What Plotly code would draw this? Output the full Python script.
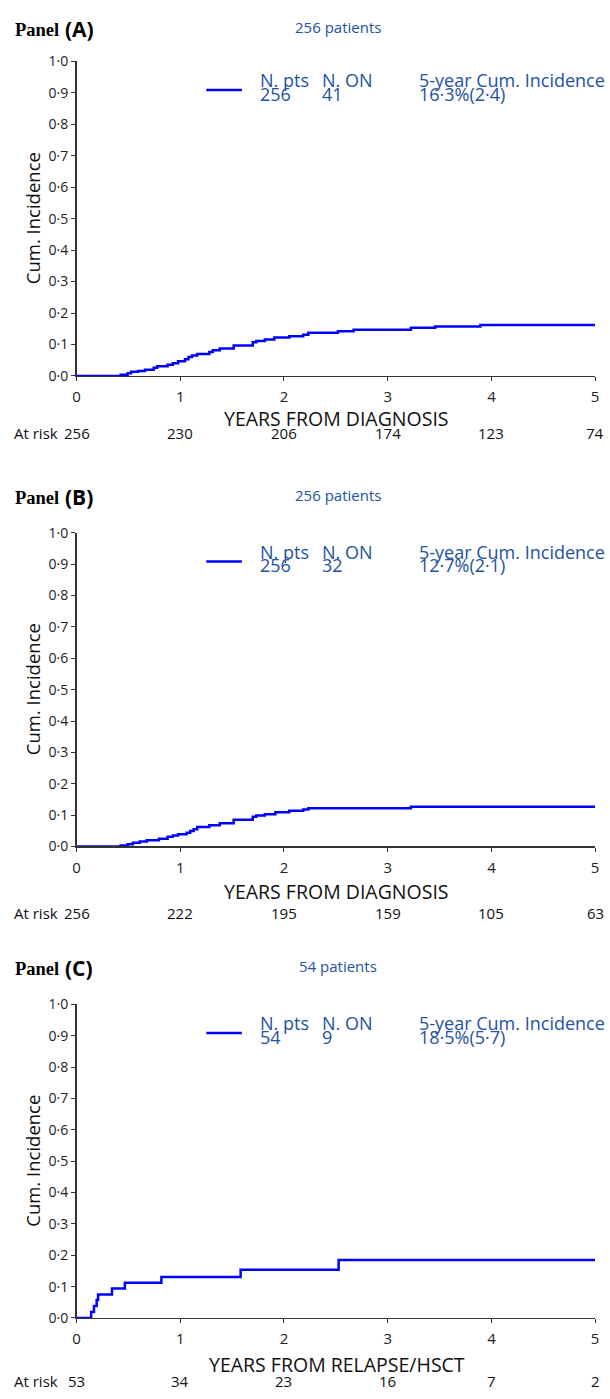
import plotly.graph_objects as go

# ---------------- data ----------------
panel_labels = ["(A)", "(B)", "(C)"]
panel_subtitles = ["256 patients", "256 patients", "54 patients"]
x_titles = ["YEARS FROM DIAGNOSIS", "YEARS FROM DIAGNOSIS", "YEARS FROM RELAPSE/HSCT"]

times_A = [0.426, 0.493, 0.526, 0.593, 0.66, 0.744, 0.777, 0.878, 0.928, 0.979, 1.046, 1.079,
           1.113, 1.163, 1.28, 1.314, 1.381, 1.515, 1.699, 1.733, 1.816, 1.907, 2.051, 2.185,
           2.235, 2.52, 2.671, 3.224, 3.458, 3.894]
cuminc_A = [0.004, 0.009, 0.013, 0.016, 0.02, 0.026, 0.031, 0.036, 0.04, 0.047, 0.053, 0.06,
            0.065, 0.07, 0.076, 0.082, 0.087, 0.097, 0.107, 0.111, 0.116, 0.122, 0.126, 0.131,
            0.137, 0.142, 0.147, 0.153, 0.157, 0.162]

times_B = [0.426, 0.493, 0.543, 0.61, 0.677, 0.794, 0.878, 0.928, 0.979, 1.062, 1.096, 1.129,
           1.163, 1.28, 1.381, 1.515, 1.699, 1.733, 1.816, 1.917, 2.051, 2.185, 2.235, 3.224]
cuminc_B = [0.003, 0.007, 0.012, 0.016, 0.02, 0.025, 0.031, 0.035, 0.039, 0.044, 0.049, 0.055,
            0.062, 0.068, 0.074, 0.085, 0.095, 0.099, 0.103, 0.109, 0.114, 0.118, 0.122, 0.127]

times_C = [0.141, 0.168, 0.194, 0.208, 0.342, 0.466, 0.818, 1.582, 2.527]
cuminc_C = [0.019, 0.038, 0.057, 0.075, 0.094, 0.112, 0.131, 0.154, 0.185]

n_pts = ["256", "256", "54"]
n_on = ["41", "32", "9"]
five_year_ci = ["16·3%(2·4)", "12·7%(2·1)", "18·5%(5·7)"]

at_risk_times = [0, 1, 2, 3, 4, 5]
at_risk_A = [256, 230, 206, 174, 123, 74]
at_risk_B = [256, 222, 195, 159, 105, 63]
at_risk_C = [53, 34, 23, 16, 7, 2]

y_tick_vals = [0, 0.1, 0.2, 0.3, 0.4, 0.5, 0.6, 0.7, 0.8, 0.9, 1.0]
y_tick_text = ["0·0", "0·1", "0·2", "0·3", "0·4", "0·5", "0·6", "0·7", "0·8", "0·9", "1·0"]
x_tick_vals = [0, 1, 2, 3, 4, 5]

# ---------------- layout geometry (pixels) ----------------
W, H = 610, 1399
X0, X1 = 73.5, 599
layout_px = [
    dict(top=52, bottom=371, title=20, xtitle=414, risk=429),
    dict(top=530, bottom=848, title=495, xtitle=894, risk=915),
    dict(top=1008, bottom=1326, title=972, xtitle=1373, risk=1390),
]

def fx(px):
    return px / W

def fy(py):
    return 1 - py / H

TEXT_BLUE = "#2352a0"
LINE_BLUE = "#0000ff"
AXIS_COL = "#333333"
SANS = "Open Sans"

times = [times_A, times_B, times_C]
cis = [cuminc_A, cuminc_B, cuminc_C]
risks = [at_risk_A, at_risk_B, at_risk_C]

fig = go.Figure()
annotations = []
shapes = []

for i in range(3):
    g = layout_px[i]
    sfx = "" if i == 0 else str(i + 1)
    xs = [0] + times[i] + [5]
    ys = [0] + cis[i] + [cis[i][-1]]
    fig.add_trace(go.Scatter(x=xs, y=ys, mode="lines", line=dict(color=LINE_BLUE, width=2.5, shape="hv"),
                             xaxis="x" + sfx, yaxis="y" + sfx, showlegend=False, hoverinfo="skip"))
    for t, n in zip(at_risk_times, risks[i]):
        annotations.append(dict(x=t, xref="x" + sfx, y=fy(g["risk"]), yref="paper", text=str(n),
                                showarrow=False, xanchor="center", yanchor="middle",
                                font=dict(family=SANS, size=15, color="#111")))
    annotations.append(dict(x=fx(8), xref="paper", y=fy(g["risk"]), yref="paper", text="At risk",
                            showarrow=False, xanchor="left", yanchor="middle",
                            font=dict(family=SANS, size=15, color="#111")))
    annotations.append(dict(x=fx(337), xref="paper", y=fy(g["xtitle"]), yref="paper", text=x_titles[i],
                            showarrow=False, xanchor="center", yanchor="middle",
                            font=dict(family=SANS, size=19.5, color="#111")))
    annotations.append(dict(x=fx(29), xref="paper", y=fy((g["top"] + g["bottom"]) / 2), yref="paper",
                            text="Cum. Incidence", textangle=-90, showarrow=False,
                            xanchor="center", yanchor="middle",
                            font=dict(family=SANS, size=18.5, color="#111")))
    annotations.append(dict(x=fx(9), xref="paper", y=fy(g["title"]), yref="paper", text="<b>Panel</b>",
                            showarrow=False, xanchor="left", yanchor="middle",
                            font=dict(family="Liberation Serif", size=18.5, color="#000")))
    annotations.append(dict(x=fx(59.5), xref="paper", y=fy(g["title"] - 1), yref="paper",
                            text="<b>" + panel_labels[i] + "</b>",
                            showarrow=False, xanchor="left", yanchor="middle",
                            font=dict(family=SANS, size=21, color="#000")))
    annotations.append(dict(x=fx(338), xref="paper", y=fy(g["title"] - 3), yref="paper",
                            text=panel_subtitles[i], showarrow=False, xanchor="center", yanchor="middle",
                            font=dict(family=SANS, size=15, color=TEXT_BLUE)))
    r1 = g["top"] + 19
    r2 = g["top"] + 33
    shapes.append(dict(type="line", xref="paper", yref="paper", x0=fx(205), x1=fx(241),
                       y0=fy(g["top"] + 29), y1=fy(g["top"] + 29),
                       line=dict(color=LINE_BLUE, width=2.5)))
    for xc, top_t, bot_t in [(257, "N. pts", n_pts[i]), (320, "N. ON", n_on[i]),
                             (418, "5-year Cum. Incidence", five_year_ci[i])]:
        annotations.append(dict(x=fx(xc), xref="paper", y=fy(r1), yref="paper", text=top_t,
                                showarrow=False, xanchor="left", yanchor="middle",
                                font=dict(family=SANS, size=18, color=TEXT_BLUE)))
        annotations.append(dict(x=fx(xc), xref="paper", y=fy(r2), yref="paper", text=bot_t,
                                showarrow=False, xanchor="left", yanchor="middle",
                                font=dict(family=SANS, size=18, color=TEXT_BLUE)))

axis_common = dict(showgrid=False, zeroline=False, showline=True, linecolor=AXIS_COL, linewidth=1.5,
                   ticks="outside", ticklen=4, tickcolor=AXIS_COL, tickwidth=1)

lay = dict(width=W, height=H, margin=dict(l=0, r=0, t=0, b=0), paper_bgcolor="white",
           plot_bgcolor="white", showlegend=False, annotations=annotations, shapes=shapes)
for i in range(3):
    g = layout_px[i]
    sfx = "" if i == 0 else str(i + 1)
    lay["xaxis" + sfx] = dict(axis_common, domain=[fx(X0), fx(X1)], range=[0, 5],
                              tickvals=x_tick_vals, ticktext=[str(v) for v in x_tick_vals],
                              anchor="y" + sfx, ticklabelstandoff=3,
                              tickfont=dict(family=SANS, size=15, color="#222"))
    lay["yaxis" + sfx] = dict(axis_common, domain=[fy(g["bottom"]), fy(g["top"])], range=[0, 1.0],
                              tickvals=y_tick_vals, ticktext=y_tick_text, anchor="x" + sfx,
                              tickfont=dict(family=SANS, size=14, color="#222"))

fig.update_layout(**lay)
fig.write_html("out.html", config={"displayModeBar": False, "staticPlot": True},
               post_script="document.body.style.margin='0';document.body.style.overflow='hidden';")
